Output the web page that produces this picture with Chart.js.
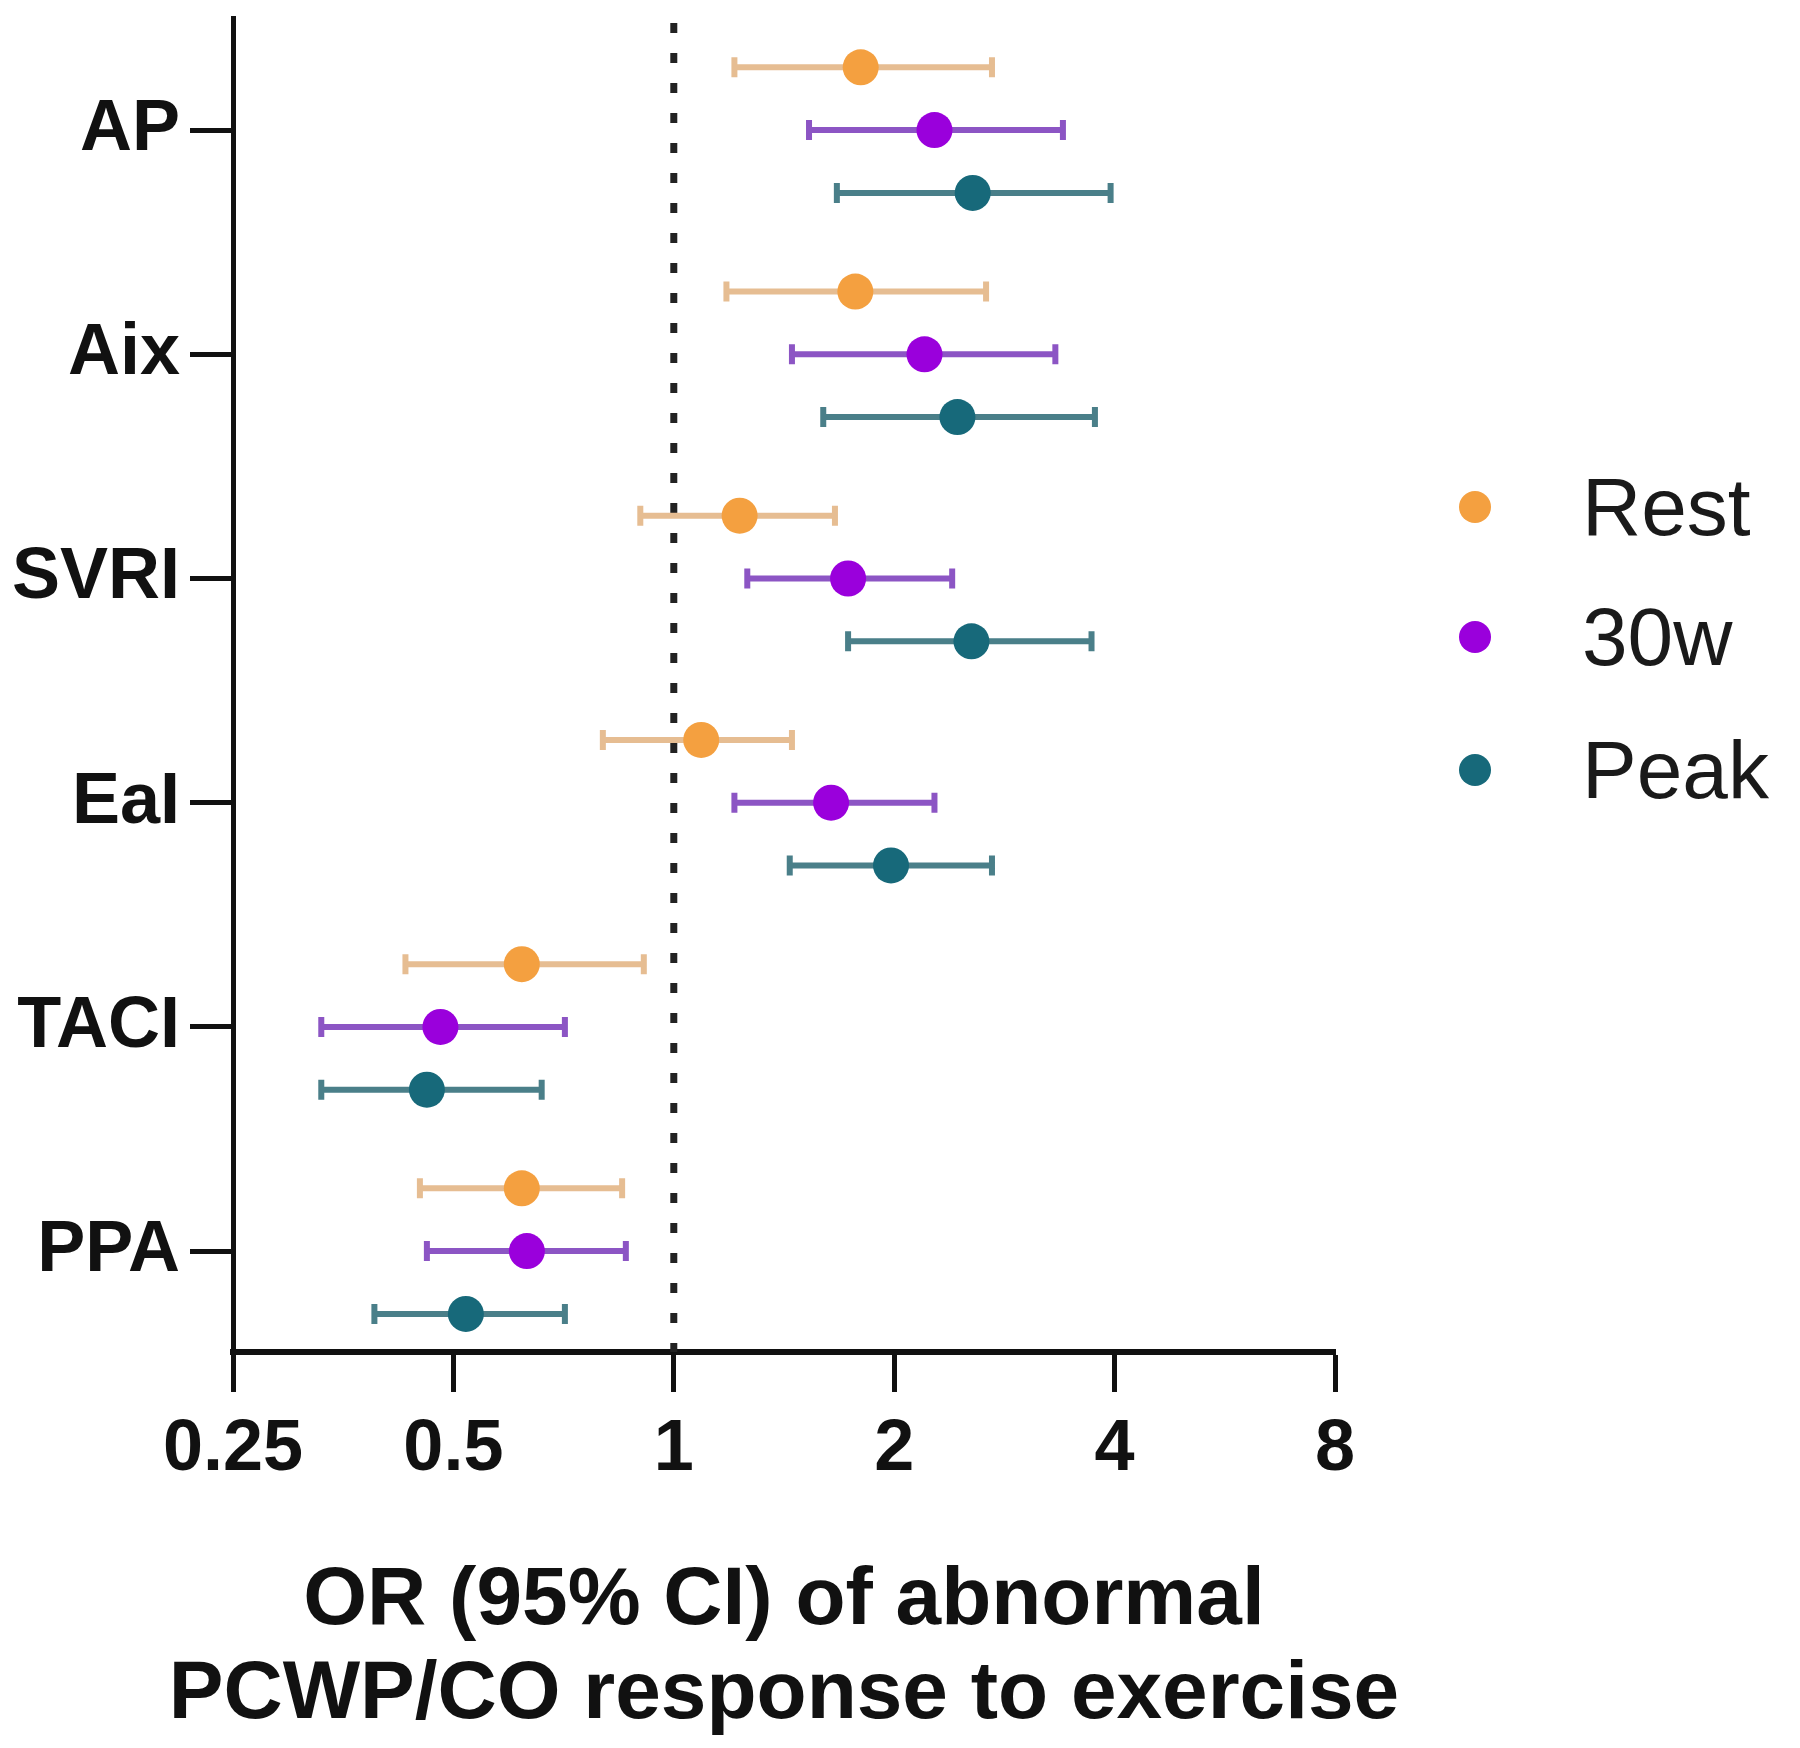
<!DOCTYPE html>
<html>
<head>
<meta charset="utf-8">
<script src="https://cdn.jsdelivr.net/npm/chart.js@4.4.1/dist/chart.umd.min.js"></script>
<style>
  html, body { margin: 0; padding: 0; background: #fff; }
  #wrap { position: relative; width: 1800px; height: 1748px; }
  #legend { position: absolute; left: 0; top: 0; font-family: "Liberation Sans", Arial, sans-serif; font-size: 82px; color: #1a1a1a; }
  .item { position: absolute; height: 100px; line-height: 100px; white-space: nowrap; }
  .dot { position: absolute; top: 34px; width: 32px; height: 32px; border-radius: 50%; }
  .lbl { position: absolute; top: 0; }
</style>
</head>
<body>
<div id="wrap">
  <canvas id="forestChart"></canvas>
  <div id="legend"></div>
</div>
<script>
// --- Forest plot: OR (95% CI) of abnormal PCWP/CO response ---

const categories = ['AP', 'Aix', 'SVRI', 'EaI', 'TACI', 'PPA'];
const seriesNames = ['Rest', '30w', 'Peak'];
const xTickValues = [0.25, 0.5, 1, 2, 4, 8];
const xTitle = ['OR (95% CI) of abnormal', 'PCWP/CO response to exercise'];
const refLine = 1;

const restOR   = [1.80, 1.77, 1.23, 1.09, 0.62, 0.62];
const restLow  = [1.21, 1.18, 0.90, 0.80, 0.43, 0.45];
const restHigh = [2.72, 2.67, 1.66, 1.45, 0.91, 0.85];

const w30OR   = [2.27, 2.20, 1.73, 1.64, 0.48, 0.63];
const w30Low  = [1.53, 1.45, 1.26, 1.21, 0.33, 0.46];
const w30High = [3.40, 3.32, 2.40, 2.27, 0.71, 0.86];

const peakOR   = [2.56, 2.44, 2.55, 1.98, 0.46, 0.52];
const peakLow  = [1.67, 1.60, 1.73, 1.44, 0.33, 0.39];
const peakHigh = [3.95, 3.76, 3.72, 2.72, 0.66, 0.71];

const dotColors = ['#f4a040', '#9a00dc', '#17697a'];
const barColors = ['#e6bd92', '#8c55c4', '#4a7f89'];
const rowOffset = [-0.28, 0, 0.28];

const FONT = '"Liberation Sans", Arial, sans-serif';

const series = [
    { or: restOR, low: restLow, high: restHigh },
    { or: w30OR, low: w30Low, high: w30High },
    { or: peakOR, low: peakLow, high: peakHigh }
];

const datasets = series.map((s, i) => ({
    label: seriesNames[i],
    data: s.or.map((v, k) => ({ x: v, y: k + rowOffset[i], low: s.low[k], high: s.high[k] })),
    backgroundColor: dotColors[i],
    borderColor: dotColors[i],
    borderWidth: 0,
    pointRadius: 18,
    pointHoverRadius: 18,
    errColor: barColors[i]
}));

// whiskers drawn from the data through the scales
const errorBars = {
    id: 'errorBars',
    beforeDatasetsDraw(chart) {
        const { ctx, scales: { x, y } } = chart;
        ctx.save();
        chart.data.datasets.forEach(ds => {
            ctx.strokeStyle = ds.errColor;
            ctx.lineWidth = 6;
            ds.data.forEach(p => {
                const py = y.getPixelForValue(p.y);
                const x1 = x.getPixelForValue(p.low);
                const x2 = x.getPixelForValue(p.high);
                ctx.beginPath();
                ctx.moveTo(x1, py); ctx.lineTo(x2, py);
                ctx.moveTo(x1, py - 10); ctx.lineTo(x1, py + 10);
                ctx.moveTo(x2, py - 10); ctx.lineTo(x2, py + 10);
                ctx.stroke();
            });
        });
        ctx.restore();
    }
};

const refLinePlugin = {
    id: 'refLine',
    beforeDatasetsDraw(chart) {
        const { ctx, chartArea, scales: { x } } = chart;
        const px = x.getPixelForValue(refLine);
        ctx.save();
        ctx.strokeStyle = '#222';
        ctx.lineWidth = 7;
        ctx.setLineDash([10, 20]);
        ctx.beginPath();
        ctx.moveTo(px, chartArea.top + 5);
        ctx.lineTo(px, chartArea.bottom);
        ctx.stroke();
        ctx.restore();
    }
};

// axis title drawn without the maxWidth squeeze of the built-in title
const xTitlePlugin = {
    id: 'xTitle',
    afterDraw(chart) {
        const { ctx, chartArea } = chart;
        const cx = (chartArea.left + chartArea.right) / 2;
        ctx.save();
        ctx.fillStyle = '#111';
        ctx.font = 'bold 82px ' + FONT;
        ctx.textAlign = 'center';
        ctx.textBaseline = 'middle';
        xTitle.forEach((line, i) => {
            ctx.fillText(line, cx, chartArea.bottom + 249 + i * 94);
        });
        ctx.restore();
    }
};

const canvas = document.getElementById('forestChart');
canvas.width = 1800;
canvas.height = 1748;

new Chart(canvas, {
    type: 'scatter',
    data: { datasets },
    options: {
        responsive: false,
        animation: false,
        layout: { padding: { top: 17, right: 465, left: 0, bottom: 0 } },
        plugins: {
            legend: { display: false },
            tooltip: { enabled: false }
        },
        scales: {
            x: {
                type: 'logarithmic',
                min: 0.25,
                max: 8,
                afterBuildTicks: s => { s.ticks = xTickValues.map(v => ({ value: v })); },
                afterFit: s => { s.height = 1748 - 1352; s.paddingLeft = 0; s.paddingRight = 0; },
                ticks: {
                    color: '#111',
                    font: { family: FONT, size: 72, weight: 'bold' },
                    padding: 15,
                    maxRotation: 0,
                    callback: v => String(v)
                },
                grid: { display: true, drawOnChartArea: false, tickLength: 40, tickWidth: 5, tickColor: '#111' },
                border: { display: true, width: 6, color: '#111' }
            },
            y: {
                type: 'linear',
                reverse: true,
                min: -0.5,
                max: 5.45,
                afterBuildTicks: s => { s.ticks = categories.map((c, i) => ({ value: i })); },
                afterFit: s => { s.width = 233; s.paddingTop = 0; s.paddingBottom = 0; },
                ticks: {
                    color: '#111',
                    font: { family: FONT, size: 72, weight: 'bold' },
                    padding: 10,
                    callback: v => categories[v]
                },
                grid: { display: true, drawOnChartArea: false, tickLength: 43, tickWidth: 5, tickColor: '#111' },
                border: { display: true, width: 5, color: '#111' }
            }
        }
    },
    plugins: [refLinePlugin, errorBars, xTitlePlugin]
});

// legend built from the series names/colours
const legendRows = [507, 637, 770];
const legend = document.getElementById('legend');
seriesNames.forEach((name, i) => {
    const item = document.createElement('div');
    item.className = 'item';
    item.style.top = (legendRows[i] - 50) + 'px';
    item.style.left = '1459px';
    item.innerHTML = '<span class="dot" style="background:' + dotColors[i] + '"></span>' +
        '<span class="lbl" style="left:123px">' + name + '</span>';
    legend.appendChild(item);
});
</script>
</body>
</html>
